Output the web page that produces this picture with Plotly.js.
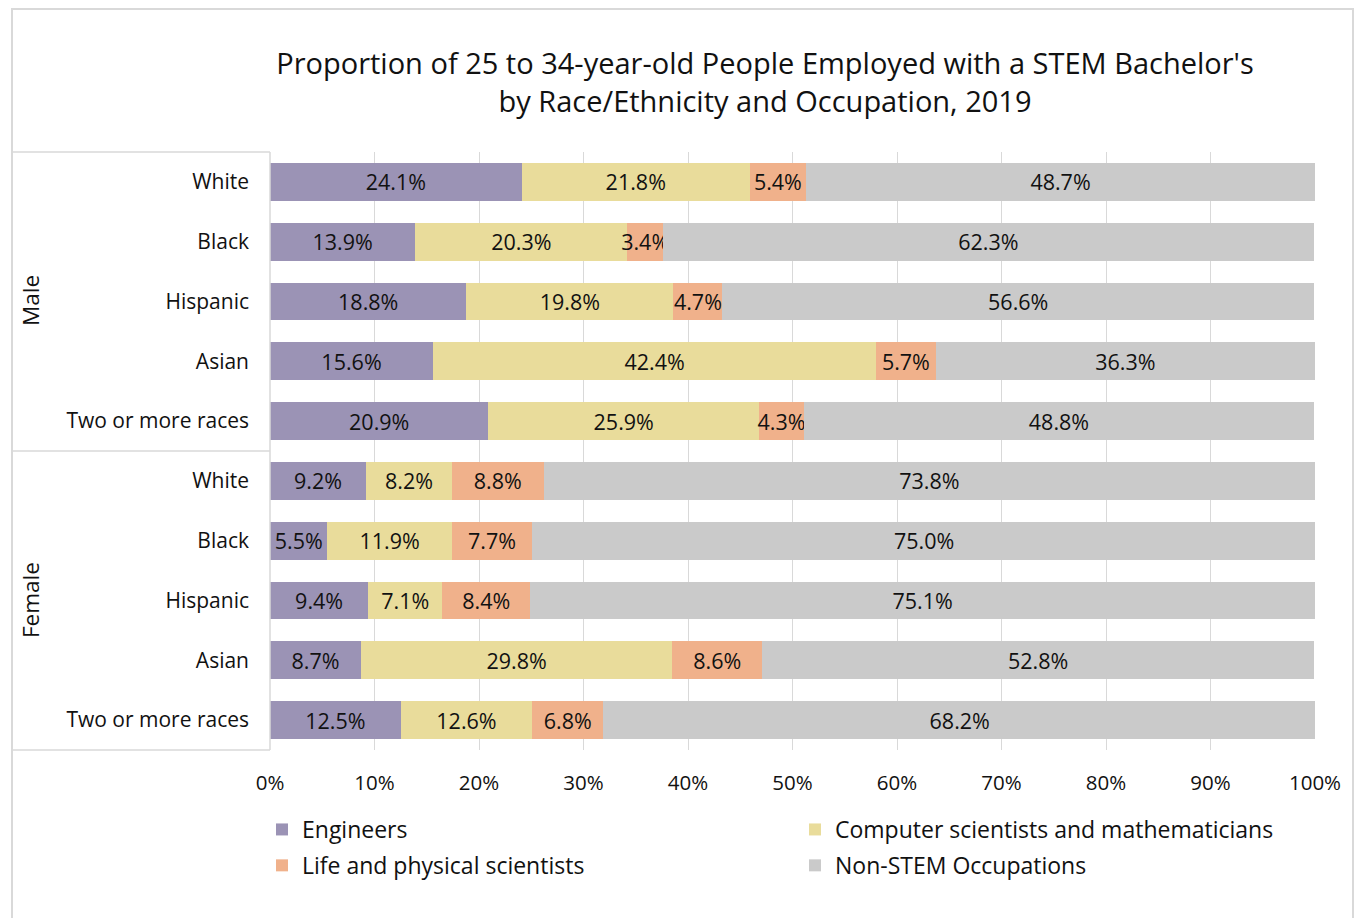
<!DOCTYPE html>
<html>
<head>
<meta charset="utf-8">
<script src="https://cdn.plot.ly/plotly-3.0.1.min.js"></script>
<style>html,body{margin:0;padding:0;background:#fff;}#chart{width:1358px;height:918px;}</style>
</head>
<body>
<div id="chart"></div>
<script>
var groups = ["Male", "Female"];
var races = ["White", "Black", "Hispanic", "Asian", "Two or more races",
             "White", "Black", "Hispanic", "Asian", "Two or more races"];
var seriesNames = ["Engineers", "Computer scientists and mathematicians", "Life and physical scientists", "Non-STEM Occupations"];
var engineers = [24.1, 13.9, 18.8, 15.6, 20.9, 9.2, 5.5, 9.4, 8.7, 12.5];
var computer  = [21.8, 20.3, 19.8, 42.4, 25.9, 8.2, 11.9, 7.1, 29.8, 12.6];
var life      = [5.4, 3.4, 4.7, 5.7, 4.3, 8.8, 7.7, 8.4, 8.6, 6.8];
var nonStem   = [48.7, 62.3, 56.6, 36.3, 48.8, 73.8, 75.0, 75.1, 52.8, 68.2];
var xTickVals = [0, 10, 20, 30, 40, 50, 60, 70, 80, 90, 100];
var xTickText = ["0%", "10%", "20%", "30%", "40%", "50%", "60%", "70%", "80%", "90%", "100%"];

var colors = ["#9b93b5", "#e9dc9b", "#f0b18b", "#cacaca"];
var legendOf = ["legend", "legend2", "legend", "legend2"];
var allSeries = [engineers, computer, life, nonStem];
var rowIdx = races.map(function(_, i){ return i; });
var FONT = "Open Sans, sans-serif";

var traces = allSeries.map(function(vals, k){
  return {
    type: "bar",
    orientation: "h",
    name: seriesNames[k],
    legend: legendOf[k],
    legendgroup: "g" + k,
    y: rowIdx,
    x: vals,
    text: vals.map(function(v){ return v.toFixed(1) + "%"; }),
    textposition: "inside",
    insidetextanchor: "middle",
    textangle: 0,
    constraintext: "none",
    textfont: {family: FONT, size: 21.5, color: "#111"},
    marker: {color: colors[k], line: {width: 0}},
    hoverinfo: "name+x"
  };
});

// paper coords helpers (plot area: x 270..1315, y 152..750)
function px(x){ return (x - 270) / 1045; }
function py(y){ return (750 - y) / 598; }
var lineC = "#d9d9d9";
var shapes = [
  {type:"rect", xref:"paper", yref:"paper", x0:px(12), x1:px(1353), y0:py(930), y1:py(9), line:{color:lineC, width:2}, fillcolor:"rgba(0,0,0,0)", layer:"below"},
  {type:"line", xref:"paper", yref:"paper", x0:px(12), x1:0, y0:1, y1:1, line:{color:lineC, width:1.5}},
  {type:"line", xref:"paper", yref:"paper", x0:px(12), x1:0, y0:0.5, y1:0.5, line:{color:lineC, width:1.5}},
  {type:"line", xref:"paper", yref:"paper", x0:px(12), x1:0, y0:0, y1:0, line:{color:lineC, width:1.5}},
  {type:"line", xref:"paper", yref:"paper", x0:0, x1:0, y0:0, y1:1, line:{color:lineC, width:1.5}}
];

var annotations = [
  {xref:"paper", yref:"paper", x:px(30), y:py(301), xanchor:"center", yanchor:"middle", text:groups[0], showarrow:false, textangle:-90, font:{family:FONT, size:22.5, color:"#111"}},
  {xref:"paper", yref:"paper", x:px(30), y:py(600), xanchor:"center", yanchor:"middle", text:groups[1], showarrow:false, textangle:-90, font:{family:FONT, size:22.5, color:"#111"}}
];

var legendCommon = {
  orientation: "v", xref: "container", yref: "container",
  xanchor: "left", yanchor: "top",
  traceorder: "grouped", tracegroupgap: 3,
  font: {family: FONT, size: 23, color: "#111"},
  bgcolor: "rgba(0,0,0,0)", borderwidth: 0
};

var layout = {
  width: 1358, height: 918,
  margin: {l: 270, r: 43, t: 152, b: 168, autoexpand: false},
  paper_bgcolor: "#fff", plot_bgcolor: "#fff",
  barmode: "stack",
  bargap: 0.365,
  font: {family: FONT, color: "#111"},
  title: {
    text: "Proportion of 25 to 34-year-old People Employed with a STEM Bachelor's<br>by Race/Ethnicity and Occupation, 2019",
    font: {family: FONT, size: 29, color: "#111"},
    x: 765/1358, xanchor: "center", xref: "container",
    y: 1 - 74/918, yref: "container", yanchor: "middle"
  },
  xaxis: {
    range: [0, 100], tickvals: xTickVals, ticktext: xTickText,
    showgrid: true, gridcolor: lineC, gridwidth: 1,
    zeroline: false, showline: false, ticks: "",
    ticklabelstandoff: 18, automargin: false,
    tickfont: {family: FONT, size: 20.5, color: "#111"},
    fixedrange: true
  },
  yaxis: {
    range: [9.5, -0.5], tickvals: rowIdx, ticktext: races,
    showgrid: false, zeroline: false, showline: false, ticks: "",
    ticklabelstandoff: 20, automargin: false,
    tickfont: {family: FONT, size: 21, color: "#111"},
    fixedrange: true
  },
  showlegend: true,
  legend: Object.assign({}, legendCommon, {x: 262/1358, y: 1 - 808/918}),
  legend2: Object.assign({}, legendCommon, {x: 795/1358, y: 1 - 808/918}),
  shapes: shapes,
  annotations: annotations
};

Plotly.newPlot("chart", traces, layout, {displayModeBar: false, staticPlot: true});
</script>
</body>
</html>
